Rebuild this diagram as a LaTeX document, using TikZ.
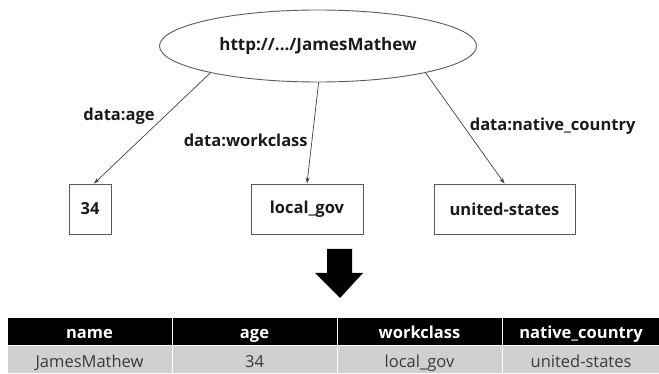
\documentclass[tikz,border=0pt]{standalone}
\usepackage{fontspec}
\setmainfont{Open Sans}
\usetikzlibrary{arrows.meta,positioning,shapes.geometric}
\definecolor{ink}{HTML}{1A1A1A}
\definecolor{ink2}{HTML}{404040}
\definecolor{line}{HTML}{5A5A5A}
\definecolor{rowfill}{HTML}{D0D0D0}
\definecolor{rowtext}{HTML}{3A3A3A}
\tikzset{
  every node/.style={text=ink},
  resource/.style={ellipse, draw=line, line width=0.9pt, minimum width=317pt, minimum height=72pt, inner sep=0pt, font=\fontsize{17}{19}\selectfont\bfseries},
  literal/.style={draw=line, line width=0.9pt, minimum height=50pt, inner sep=0pt, font=\fontsize{16.5}{18}\selectfont\bfseries},
  prop/.style={font=\fontsize{16.5}{18}\selectfont\bfseries, inner sep=1pt},
  arr/.style={-{Stealth[length=6pt, width=4pt]}, draw=ink2, line width=0.7pt},
  headcell/.style={fill=black, draw=white, line width=1pt, text=white, minimum height=28pt, inner sep=0pt, text height=14pt, text depth=0pt, font=\fontsize{16.5}{18}\selectfont\bfseries},
  rowcell/.style={fill=rowfill, draw=white, line width=1pt, text=rowtext, minimum height=28pt, inner sep=0pt, text height=17pt, text depth=0pt, font=\fontsize{16.5}{18}\selectfont},
}
\begin{document}
\begin{tikzpicture}[x=1pt, y=-1pt]
  \useasboundingbox (0,0) rectangle (659,374);

  % ---- graph: resource and its literals ---------------------------------
  \node[resource] (res) at (318,46) {http://.../JamesMathew};
  \node[literal, minimum width=42pt] (age) at (90,209) {34};
  \node[literal, minimum width=112pt] (work) at (307,209) {local\_gov};
  \node[literal, minimum width=141pt] (country) at (504.5,209) {united-states};

  \draw[arr] (res.194) -- node[prop, pos=0.39, left=9pt] {data:age} ([xshift=4pt]age.north);
  \draw[arr] (res.271) -- node[prop, pos=0.57, left=3pt] {data:workclass} (work.north);
  \draw[arr] (res.346.5) -- node[prop, pos=0.48, right=5pt] {data:native\_country} (country.north);

  % big arrow down to the table
  \fill[black] (327,249) -- (352,249) -- (352,273) -- (363,273) -- (340,298)
    -- (315,273) -- (327,273) -- cycle;

  % ---- table ---------------------------------------------------------------
  \node[headcell, minimum width=165pt] (hname) at (89.5,331) {name};
  \node[headcell, minimum width=165pt] (hage) at (254.5,331) {age};
  \node[headcell, minimum width=165pt] (hwork) at (419.5,331) {workclass};
  \node[headcell, minimum width=158pt] (hcountry) at (581,331) {native\_country};
  \node[rowcell, minimum width=165pt] (rname) at (89.5,359) {JamesMathew};
  \node[rowcell, minimum width=165pt] (rage) at (254.5,359) {34};
  \node[rowcell, minimum width=165pt] (rwork) at (419.5,359) {local\_gov};
  \node[rowcell, minimum width=158pt] (rcountry) at (581,359) {united-states};
\end{tikzpicture}
\end{document}
